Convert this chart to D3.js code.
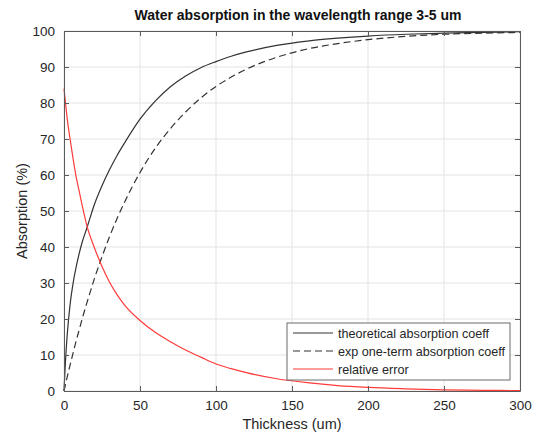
<!DOCTYPE html>
<html>
<head>
<meta charset="utf-8">
<script src="https://cdn.jsdelivr.net/npm/d3@7"></script>
<style>
  html, body { margin: 0; padding: 0; background: #fff; }
  svg { display: block; font-family: "Liberation Sans", Arial, Helvetica, sans-serif; }
</style>
</head>
<body>
<svg id="chart" width="539" height="438"></svg>
<script>
// Thickness samples (um)
const thickness = [0, 1, 2, 4, 6, 8, 10, 12, 15, 20, 25, 30, 35, 40, 50, 60, 70, 80, 90, 100,
                   110, 120, 140, 160, 180, 200, 225, 250, 275, 300];
// Absorption (%) with the theoretical absorption coefficient
const theoretical = [0, 8.5, 15, 24, 30, 34.5, 38.2, 41.4, 45.2, 51.8, 57, 61.5, 65.5, 69, 75.5, 80.5, 84.5, 87.5, 89.8, 91.5,
                     93, 94.2, 96, 97.2, 98, 98.6, 99.1, 99.4, 99.6, 99.8];
// Absorption (%) with the exponential one-term absorption coefficient
const expOneTerm = [0, 1.85, 3.7, 7.2, 10.6, 13.9, 17.0, 20.1, 24.4, 31.2, 37.3, 42.9, 48.0, 52.6, 60.7, 67.4, 72.9, 77.5, 81.4, 84.6,
                    87.2, 89.4, 92.7, 95.0, 96.5, 97.6, 98.5, 99.1, 99.4, 99.6];
// Relative error (%) between the two
const relError = [84, 80, 76, 70, 64.5, 59.5, 55.5, 51.5, 46, 39.8, 34.6, 30.2, 26.7, 23.8, 19.6, 16.3, 13.7, 11.4, 9.4, 7.5,
                  6.2, 5.1, 3.4, 2.3, 1.5, 1.0, 0.6, 0.3, 0.2, 0.1];

const xTicks = [0, 50, 100, 150, 200, 250, 300];
const yTicks = [0, 10, 20, 30, 40, 50, 60, 70, 80, 90, 100];
const legendLabels = ["theoretical absorption coeff", "exp one-term absorption coeff", "relative error"];

const svg = d3.select("#chart");
const m = { left: 64, right: 520, top: 31, bottom: 391 };

const x = d3.scaleLinear().domain([0, 300]).range([m.left, m.right]);
const y = d3.scaleLinear().domain([0, 100]).range([m.bottom, m.top]);

const axisColor = "#5a5a5a";
const textColor = "#262626";

// grid
const grid = svg.append("g");
grid.selectAll("line.gx").data(xTicks).join("line")
  .attr("x1", d => x(d)).attr("x2", d => x(d))
  .attr("y1", m.top).attr("y2", m.bottom)
  .attr("stroke", "#e3e3e3").attr("stroke-width", 1);
grid.selectAll("line.gy").data(yTicks).join("line")
  .attr("y1", d => y(d)).attr("y2", d => y(d))
  .attr("x1", m.left).attr("x2", m.right)
  .attr("stroke", "#e3e3e3").attr("stroke-width", 1);

// series
const series = [
  { values: theoretical, color: "#333333", dash: null },
  { values: expOneTerm, color: "#333333", dash: "7,4" },
  { values: relError, color: "#ff3b3b", dash: null }
];
const line = d3.line().curve(d3.curveMonotoneX);
series.forEach(s => {
  svg.append("path")
    .attr("d", line(thickness.map((t, i) => [x(t), y(s.values[i])])))
    .attr("fill", "none")
    .attr("stroke", s.color)
    .attr("stroke-width", 1.2)
    .attr("stroke-dasharray", s.dash);
});

// axes (ticks pointing inward, MATLAB-style box)
const tickLen = 5;
const fmt = d3.format("d");
const xAxisB = d3.axisBottom(x).tickValues(xTicks).tickSizeInner(-tickLen).tickSizeOuter(0).tickPadding(9).tickFormat(fmt);
const xAxisT = d3.axisTop(x).tickValues(xTicks).tickSizeInner(-tickLen).tickSizeOuter(0).tickFormat("");
const yAxisL = d3.axisLeft(y).tickValues(yTicks).tickSizeInner(-tickLen).tickSizeOuter(0).tickPadding(9).tickFormat(fmt);
const yAxisR = d3.axisRight(y).tickValues(yTicks).tickSizeInner(-tickLen).tickSizeOuter(0).tickFormat("");

function styleAxis(g) {
  g.select(".domain").attr("stroke", axisColor).attr("stroke-width", 1);
  g.selectAll(".tick line").attr("stroke", axisColor);
  g.selectAll(".tick text").attr("fill", textColor).style("font-size", "13.5px");
}
svg.append("g").attr("transform", `translate(0,${m.bottom})`).call(xAxisB).call(styleAxis);
svg.append("g").attr("transform", `translate(0,${m.top})`).call(xAxisT).call(styleAxis);
svg.append("g").attr("transform", `translate(${m.left},0)`).call(yAxisL).call(styleAxis);
svg.append("g").attr("transform", `translate(${m.right},0)`).call(yAxisR).call(styleAxis);

// title and axis labels
svg.append("text")
  .attr("x", (m.left + m.right) / 2 + 6).attr("y", 20)
  .attr("text-anchor", "middle").attr("fill", "#111")
  .style("font-size", "14px").style("font-weight", "bold")
  .text("Water absorption in the wavelength range 3-5 um");
svg.append("text")
  .attr("x", (m.left + m.right) / 2).attr("y", 429)
  .attr("text-anchor", "middle").attr("fill", textColor)
  .style("font-size", "14.5px")
  .text("Thickness (um)");
svg.append("text")
  .attr("transform", `translate(27,${(m.top + m.bottom) / 2}) rotate(-90)`)
  .attr("text-anchor", "middle").attr("fill", textColor)
  .style("font-size", "14.5px")
  .text("Absorption (%)");

// legend
const lg = svg.append("g").attr("transform", "translate(287,323)");
lg.append("rect").attr("width", 223).attr("height", 57)
  .attr("fill", "#fff").attr("stroke", "#6a6a6a").attr("stroke-width", 1);
legendLabels.forEach((lab, i) => {
  const yy = 10 + i * 18;
  lg.append("line").attr("x1", 6).attr("x2", 46).attr("y1", yy).attr("y2", yy)
    .attr("stroke", series[i].color).attr("stroke-width", 1.2)
    .attr("stroke-dasharray", series[i].dash);
  lg.append("text").attr("x", 51).attr("y", yy + 4.5)
    .attr("fill", textColor).style("font-size", "12.6px")
    .text(lab);
});
</script>
</body>
</html>
